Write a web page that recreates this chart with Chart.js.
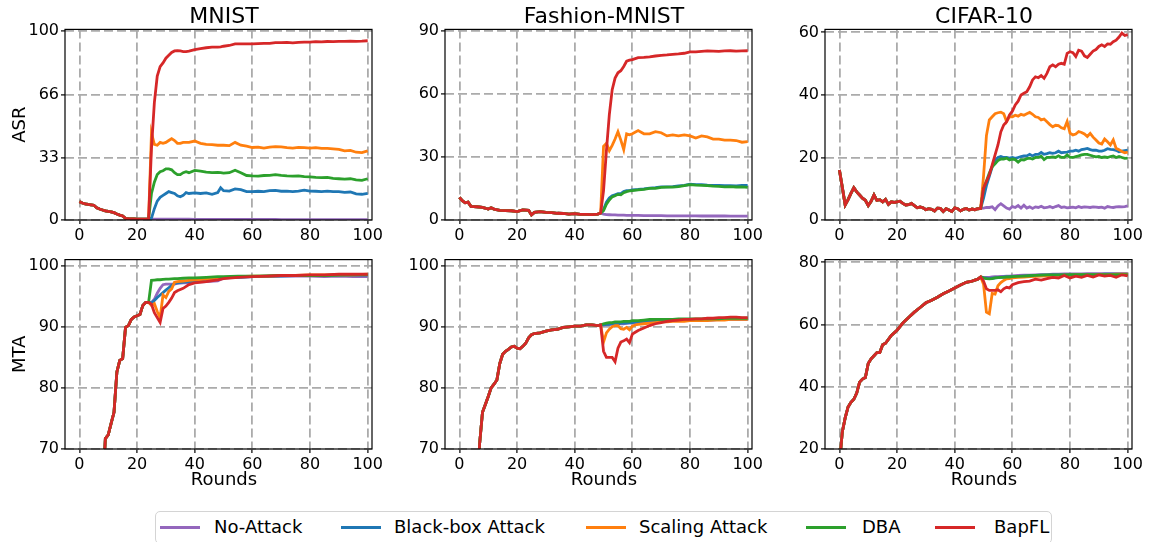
<!DOCTYPE html>
<html>
<head>
<meta charset="utf-8">
<script src="https://cdn.jsdelivr.net/npm/chart.js@4.4.1/dist/chart.umd.min.js"></script>
<style>
  body { margin: 0; width: 1150px; height: 542px; background: #fff; position: relative; overflow: hidden; font-family: "DejaVu Sans", sans-serif; }
  canvas { position: absolute; }
  #legend { position: absolute; left: 155px; top: 511px; width: 897px; height: 33px; border: 1px solid #d4d4d4; border-radius: 5px; box-sizing: border-box; font-size: 18px; color: #000; white-space: nowrap; }
  .swatch { position: absolute; top: 14px; width: 40px; height: 3px; }
  .label { position: absolute; top: 4px; line-height: 22px; }
</style>
</head>
<body>
<canvas id="c0"></canvas><canvas id="c1"></canvas><canvas id="c2"></canvas>
<canvas id="c3"></canvas><canvas id="c4"></canvas><canvas id="c5"></canvas>
<div id="legend"></div>
<script>
// series order: No-Attack, Black-box Attack, Scaling Attack, DBA, BapFL
const seriesNames = ['No-Attack', 'Black-box Attack', 'Scaling Attack', 'DBA', 'BapFL'];
const seriesColors = ['#9467bd', '#1f77b4', '#ff7f0e', '#2ca02c', '#d62728'];
const xTicks = [0, 20, 40, 60, 80, 100];

// ---- MNIST ASR ----
const mnistAsrTicks = [0, 33, 66, 100];
const mnistAsrPreRounds = [0,1,2,3,4,5,6,7,8,9,10,11,12,13,14,15,16,17,18,19,20,21,22,23,24];
const mnistAsrPre = [9.7,9,8.5,8.2,8,7.8,6.5,5.8,5.3,4.8, 4.5,4.3,3.9,3.2,2.6,2.1,0.9,0.7,0.6,0.6, 0.5,0.5,0.5,0.5,0.5];
const mnistAsrRounds = [25,26,27,28,29,30,31,32,33,34,35,36,37,38, 40,42,44,46,48, 49,
  50,52,54,56,58,60,62,64,66,68,70,72,74,76,78,80,82,84,86,88,90,92,94,96,98,100];
const mnistAsrNoAttack = [0.4,0.4,0.4,0.4,0.4,0.4,0.4,0.4,0.4,0.4,0.4,0.4,0.4,0.4, 0.3,0.3,0.3,0.3,0.3, 0.3,
  0.3,0.3,0.3,0.3,0.3,0.3,0.3,0.3,0.3,0.3,0.2,0.2,0.2,0.2,0.2,0.2,0.2,0.2,0.2,0.2,0.2,0.2,0.2,0.2,0.2,0.2];
const mnistAsrBlackbox = [1,6,10,12,13,14,15,14.5,14,12.8,12.3,13,14.5,14, 14.3,14,14.3,13.6,14.5, 17,
  15.5,15.3,16.4,16,15,15,15.2,15,15.5,15.6,15.2,15.3,15,15.3,15.8,15.3,15.2,15,15.3,15,15,14.6,14.8,13.8,13.6,14.1];
const mnistAsrScaling = [46,40,39.5,41,40.5,41,42,43,42,40.5,40.5,41,41,41, 41.7,40.5,40,39.8,39.5, 39.5,
  39.5,39.3,41,39.5,39,38.3,38.5,38,38.5,38.8,38.6,38.2,38,38.4,38.2,38,38.2,37.8,37.8,37.6,37.3,36.5,36.8,35.8,35.6,36.5];
const mnistAsrDba = [14,20,24,25.5,26,27,27,26.5,25,24,24,25,25.5,25, 26.2,25.8,25.3,25,25.2, 25,
  24.8,25,26.3,25,23.5,23.3,23.2,23.5,23.6,24,23.6,23.3,23.2,23.3,22.9,22.8,22.5,22.4,22.5,22,21.8,21.6,21.8,21.2,20.9,21.8];
const mnistAsrBapfl = [38,62,76,81,83,85.5,87,88.5,89.3,89.5,89.3,89,89,89.2, 90,90.5,91,91.3,91.3, 91.5,
  91.8,92.2,93,93,93,93,93.2,93.3,93.3,93.7,93.7,93.8,93.6,93.8,94,94,94.2,94.1,94.3,94.2,94.4,94.4,94.5,94.4,94.5,94.7];

// ---- Fashion-MNIST ASR ----
const fmnistAsrTicks = [0, 30, 60, 90];
const fmnistAsrPreRounds = [0,1,2,3,4, 6,8,10, 11,12, 14,16,18,20,22,24, 25,26, 28,30,32,34,36,38,40,42,44,46,48, 49];
const fmnistAsrPre = [10.8,9.2,8.2,8.5,6.5, 6.3,6,5.2, 5.8,5.2, 4.6,4.5,4.4,4,4.8,4.6, 2.4,3.6, 4,3.6,3.5,3.2,3.1,2.8,3,2.7,2.7,2.6,2.8, 3.3];
const fmnistAsrRounds = [50,51,52,53,54,55,56,57,58,59,60, 62,64,66,68,70,72,74,76,78,80, 82,84,86,88,90,92,94,96,98,100];
const fmnistAsrNoAttack = [2.8,2.6,2.5,2.4,2.4,2.3,2.3,2.3,2.2,2.2,2.2, 2.2,2.1,2.1,2.1,2.1,2,2,2,2,2, 2,1.9,1.9,1.9,1.9,1.9,1.8,1.8,1.8,1.8];
const fmnistAsrBlackbox = [5,8.5,10.5,11.5,12,12.5,12.5,13.5,14,14,14.3, 14.5,14.8,15.2,15.4,15.8,15.8,15.9,16.2,16.5,17, 16.8,16.8,16.6,16.5,16.4,16.3,16.3,16.2,16.4,16.5];
const fmnistAsrScaling = [35,36.5,33,35.5,38.5,42,38,33.5,41,40.5,41, 42.5,41,41,42,41.5,40,40.5,40,40.5,40, 39,40,39.5,38.5,38.5,38,38,37.8,37,37.3];
const fmnistAsrDba = [4.5,7.5,9.5,11,11.5,12.2,12,13,13.5,13.8,14, 14.3,14.6,15,15,15.5,15.6,15.6,15.9,16.3,16.8, 16.6,16.5,16.3,16.1,16,15.8,15.9,15.7,15.8,15.5];
const fmnistAsrBapfl = [14,33,50,62,67.5,70,71,73,75.5,76,76.3, 77.2,77.3,77.6,78,78.3,78.5,78.8,79,79.3,80, 80,80.2,80.4,80.3,80.2,80.4,80.5,80.3,80.4,80.5];

// ---- CIFAR-10 ASR ----
const cifarAsrTicks = [0, 20, 40, 60];
const cifarAsrPreRounds = [0,1,2,3,4,5,6,7,8,9, 10,11,12,13,14,15,16,17,18,19, 20,21,22,23,24,25,26,27,28,29,
  30,31,32,33,34,35,36,37,38,39, 40,41,42,43,44,45,46,47,48,49];
const cifarAsrPre = [16,10.5,4.8,6.5,8.5,10.3,9,8,7,6.3, 4.6,6,8,6.3,6.5,5.8,6.6,5,5.8,5.6, 5.8,6,5.3,4.8,4.9,5.3,4.6,3.9,4.2,3.9,
  3.3,3.6,3.4,2.9,3.8,3.7,2.7,3.6,3.2,2.7, 3.9,3.6,2.9,3.4,3.7,3.2,3.5,3.3,3.6,3.7];
const cifarAsrRounds = [50,51,52,53,54,55,56,57,58,59, 60,61,62,63,64,65,66,67,68,69, 70,71,72,73,74,75,76,77,78,79,
  80,81,82,83,84,85,86,87,88,89, 90,91,92,93,94,95,96,97,98,99,100];
const cifarAsrNoAttack = [3.8,4,4,4.2,3.3,4.5,5.2,4.5,3.8,3.5, 4.3,4,4.6,3.8,4.7,3.8,4.2,3.7,4.2,4, 4.4,3.9,4,4.3,3.9,4.3,4.6,4,4.2,3.9,
  4,4.1,3.9,4.3,4,4.2,4.1,4,4.2,4.1, 4,4.1,3.8,4.3,4.1,4,4.2,4.3,4.2,4.3,4.5];
const cifarAsrBlackbox = [7,11,14,17,19,20,20.3,20,20,19.8, 20,19.7,20,20.3,20.5,20.5,21,20.5,21,21, 21.6,21,21.2,21.5,21.3,21.5,22,21.5,21.6,21.7,
  22,22,22.3,22,22.5,22.7,22.9,22.5,22.3,22.3, 22,22,22.3,22.8,22.6,22.5,22.3,21.8,22,22.2,22.3];
const cifarAsrScaling = [14,27,32,33,34,34.3,34.5,34,31.5,33, 33,33.5,33.2,33.8,33.5,34,34.4,33.8,33,32.8, 32,32.3,31.4,30.5,29.8,30.3,30.2,29.5,29.2,31.5,
  27.8,27.2,27.5,28.3,28,27.5,26.7,27.7,26.5,25.6, 24.6,24.3,25.9,25,24,25.6,22.9,22.5,21.9,21.5,21.7];
const cifarAsrDba = [10,12.5,15,17,18,19,19.5,19.5,19.8,19.2, 19.5,19.3,18.5,19.3,19.2,19.6,19.8,19.5,20,20, 20.4,19.3,20,20,20.2,20,20.5,20,20,20.8,
  20,20,20.3,20.5,20.8,21,21,20.7,20.4,20.2, 20.3,20,20.2,20,20.3,20.5,20,20.3,20,19.7,19.8];
const cifarAsrBapfl = [10.1,12.3,14.4,17.6,20.8,24,28.2,30.4,31.4,33.6, 34.8,36.8,38,40,40.5,41,42.6,44.8,45.8,45.5, 46.2,45.3,46.9,49,49.6,49,49.8,50.1,49.8,53.3,
  53.8,53.5,52.3,54.3,54,52.5,52,53,54,54.5, 55.5,56,55.5,56.3,56.2,57,57.5,58.5,59.8,59,59.3];

// ---- MNIST MTA ----
const mnistMtaTicks = [70, 80, 90, 100];
const mnistMtaPreRounds = [8,9,10,11,12,13,14,15,16,17,18,19,20,21,22,23,24];
const mnistMtaPre = [63,71.7,72.3,74.2,76,82.6,84.5,84.8,89.9,90.2,91.2,91.6,91.8,92,93.5,94,94];
const mnistMtaRounds = [25,26,27,28,29,30,31,32,33,34, 36,38,40,44,48, 50,55,60,65,70,75,80,85,90,95,100];
const mnistMtaNoAttack = [94,94.5,95.5,96.3,96.9,97,97,97,97,97.1, 97.2,97.2,97.3,97.4,97.5, 98,98.1,98.2,98.2,98.3,98.3,98.3,98.2,98.3,98.2,98.2];
const mnistMtaBlackbox = [93.9,94.3,94.8,95.2,95.6,96,96.4,96.8,97.1,97.2, 97.3,97.4,97.5,97.6,97.8, 98,98.1,98.2,98.3,98.3,98.4,98.4,98.4,98.5,98.5,98.5];
const mnistMtaScaling = [93.5,93.8,92.5,91.5,95.2,94.8,95.8,96.2,97.3,97.4, 97.5,97.6,97.7,97.8,98, 98.1,98.2,98.3,98.3,98.4,98.4,98.5,98.5,98.5,98.5,98.6];
const mnistMtaDba = [97.6,97.65,97.7,97.7,97.75,97.8,97.8,97.85,97.9,97.9, 97.95,98,98,98.1,98.2, 98.2,98.3,98.3,98.35,98.4,98.4,98.4,98.4,98.45,98.5,98.5];
const mnistMtaBapfl = [93.7,92.3,91.5,90.7,93,93.4,94,94.7,95.6,95.9, 96.3,96.9,97.2,97.4,97.7, 97.9,98.1,98.2,98.3,98.4,98.4,98.5,98.5,98.6,98.6,98.6];

// ---- Fashion-MNIST MTA ----
const fmnistMtaTicks = [70, 80, 90, 100];
const fmnistMtaPreRounds = [6,7,8,9,10,11,12,13,14,15,16,17,18,19,20,21,22,23,24,25,26, 28,30,32,34,36,38,40,42,44,46,48, 49];
const fmnistMtaPre = [62,70.8,76,77.3,78.6,80,80.6,81.3,84,85.5,86,86.3,86.7,86.8,86.5,86.4,86.8,87.3,88.2,88.7,88.9,
  89,89.3,89.5,89.6,89.9,90,90.1,90.1,90.3,90.3,90.2, 90.3];
const fmnistMtaRounds = [50,51,52,53,54,55,56,57,58,59,60,61,62, 64,66,68,70,72,74,76,78,80,82, 84,86,88,90,92,94,96,98,100];
const fmnistMtaNoAttack = [90.3,90.3,90.4,90.4,90.4,90.5,90.5,90.5,90.6,90.6,90.6,90.7,90.7, 90.8,90.8,90.9,90.9,91,91,91,91,91.1,91.1, 91.1,91.1,91.1,91.2,91.2,91.2,91.2,91.2,91.2];
const fmnistMtaBlackbox = [90.3,90.4,90.4,90.5,90.5,90.5,90.6,90.6,90.6,90.7,90.7,90.8,90.8, 90.9,91,91,91.1,91.1,91.1,91.2,91.2,91.2,91.2, 91.2,91.3,91.3,91.3,91.3,91.3,91.3,91.3,91.3];
const fmnistMtaScaling = [87.5,89,89.6,90,90.2,90.2,89.7,89.6,89.9,89.5,90.1,90.3,90.4, 90.5,90.6,90.7,90.8,90.8,90.9,90.9,90.9,91,91, 91,91,91.1,91.1,91.1,91.2,91.2,91.2,91.2];
const fmnistMtaDba = [90.5,90.6,90.7,90.7,90.8,90.8,90.8,90.9,90.9,90.9,91,91,91, 91.1,91.2,91.2,91.2,91.2,91.2,91.3,91.3,91.3,91.3, 91.3,91.3,91.3,91.3,91.4,91.4,91.4,91.4,91.4];
const fmnistMtaBapfl = [86,85,85,85,84.3,86.5,87.5,87.7,88,87.4,88.8,89.1,89.4, 89.8,90.2,90.5,90.7,90.9,91,91.1,91.2,91.2,91.3, 91.3,91.4,91.4,91.5,91.5,91.6,91.6,91.5,91.5];

// ---- CIFAR-10 MTA ----
const cifarMtaTicks = [20, 40, 60, 80];
const cifarMtaPreRounds = [0,1,2,3,4,5,6,7,8,9,10,11,12,13,14,15,16, 18,20,22,24,26,28,30,32,34,36,38,40,42,44,46,48, 49];
const cifarMtaPre = [15,25.5,30,33.5,35,36,38,41.5,42.5,43,47.5,49,50,51,51,53.5,54,
  56.5,58.2,60.5,62.3,64,65.5,67,67.8,68.8,69.9,70.8,71.8,72.7,73.6,74,74.6, 75.3];
const cifarMtaRounds = [50,51,52,53,54,55,56,57,58,59,60, 62,64,66,68,70,72,74,76,78,80, 82,84,86,88,90,92,94,96,98,100];
const cifarMtaNoAttack = [75.2,75.2,75.2,75.3,75.4,75.4,75.5,75.5,75.6,75.6,75.7, 75.8,75.9,75.9,76,76.1,76.1,76.2,76.2,76.3,76.3, 76.3,76.3,76.4,76.4,76.4,76.4,76.4,76.4,76.4,76.4];
const cifarMtaBlackbox = [75,74.9,74.8,74.9,75,75.1,75.2,75.3,75.3,75.4,75.4, 75.5,75.6,75.7,75.8,75.9,75.9,76,76,76,76, 76.1,76.1,76.1,76.1,76.1,76.2,76.2,76.2,76.2,76.2];
const cifarMtaScaling = [73,64,63.5,70,69.8,72.5,73.5,74.2,74.7,74.8,75, 75.2,75.3,75.4,75.5,75.6,75.7,75.8,75.8,75.9,75.9, 76,76,76,76,76.1,76.1,76.1,76.2,76.2,76.2];
const cifarMtaDba = [75,74.8,74.7,74.8,75,75.1,75.2,75.2,75.3,75.3,75.4, 75.5,75.6,75.7,75.8,75.9,76,76,76,76,76.1, 76.1,76.1,76.1,76.1,76.1,76.1,76.1,76.1,76.1,76.1];
const cifarMtaBapfl = [74,71.5,71,71,71,71.2,70.6,71.5,72,71.8,72.8, 73.5,73.8,74,74.6,74.3,74.8,75.2,75,75.8,75, 75.6,75.2,75.8,75.3,76,75.6,75.8,75.2,76,75.7];

Chart.defaults.font.family = "'DejaVu Sans', sans-serif";
Chart.defaults.color = '#000';

// joins the shared pre-attack curve with one series' own post-attack values
const joinSeries = (preRounds, pre, rounds, vals) =>
  preRounds.map((r, i) => ({ x: r, y: pre[i] })).concat(rounds.map((r, i) => ({ x: r, y: vals[i] })));

const framePlugin = {
  id: 'frame',
  afterDatasetsDraw(chart) {
    const { ctx, chartArea: a } = chart;
    ctx.save();
    ctx.strokeStyle = '#000';
    ctx.lineWidth = 1.2;
    ctx.strokeRect(a.left, a.top, a.right - a.left, a.bottom - a.top);
    ctx.restore();
  }
};

// panel title and x label, centred a little right of the plot area like the original figure
const panelTextPlugin = {
  id: 'panelText',
  afterDraw(chart, args, opts) {
    const { ctx, chartArea: a } = chart;
    const cx = (a.left + a.right) / 2 + 5.5;
    ctx.save();
    ctx.fillStyle = '#000';
    ctx.textAlign = 'center';
    ctx.textBaseline = 'middle';
    if (opts.title) {
      ctx.font = "22px 'DejaVu Sans'";
      ctx.fillText(opts.title, cx, a.top - 12);
    }
    if (opts.xlabel) {
      ctx.font = "18px 'DejaVu Sans'";
      ctx.fillText(opts.xlabel, cx, a.bottom + 31);
    }
    ctx.restore();
  }
};

const gridOpts = { color: '#ababab', lineWidth: 1.8, tickColor: '#000', tickLength: 4, tickWidth: 1.2, tickBorderDash: [] };
const borderOpts = { display: false, dash: [9, 4] };

function drawPanel(id, left, top, height, p) {
  const cv = document.getElementById(id);
  cv.width = 387; cv.height = height;
  cv.style.left = left + 'px'; cv.style.top = top + 'px';
  const datasets = p.series.map((vals, k) => ({
    label: seriesNames[k],
    data: joinSeries(p.preRounds, p.pre, p.rounds, vals),
    borderColor: seriesColors[k],
    borderWidth: 2.8,
    pointRadius: 0,
    tension: 0,
    order: 4 - k
  }));
  new Chart(cv, {
    type: 'line',
    data: { datasets },
    options: {
      responsive: false,
      animation: false,
      devicePixelRatio: 1,
      layout: { padding: { top: p.padTop, right: 15, left: 0, bottom: 0 } },
      plugins: {
        legend: { display: false },
        tooltip: { enabled: false },
        panelText: { title: p.title, xlabel: p.showRounds ? 'Rounds' : '' }
      },
      scales: {
        x: {
          type: 'linear', min: -5, max: 101.5,
          afterBuildTicks: s => { s.ticks = xTicks.map(v => ({ value: v })); },
          afterFit: s => { s.height = p.xh; },
          grid: gridOpts, border: borderOpts,
          ticks: { font: { size: 16 }, color: '#000', padding: 2, maxRotation: 0, autoSkip: false }
        },
        y: {
          type: 'linear', min: p.ymin, max: p.ymax,
          afterBuildTicks: s => { s.ticks = p.yTicks.map(v => ({ value: v })); },
          afterFit: s => { s.width = 65; },
          grid: gridOpts, border: borderOpts,
          ticks: { font: { size: 16 }, color: '#000', padding: 2, autoSkip: false },
          title: { display: !!p.ylabel, text: p.ylabel, color: '#000', font: { size: 18 }, padding: { top: 10, bottom: 0 } }
        }
      }
    },
    plugins: [framePlugin, panelTextPlugin]
  });
}

const colLeft = [0, 380, 760];
const topRow = { top: 0, height: 250, padTop: 29.4, xh: 30, showRounds: false };
const botRow = { top: 248, height: 246, padTop: 10.3, xh: 45, showRounds: true };

drawPanel('c0', colLeft[0], topRow.top, topRow.height, Object.assign({}, topRow, {
  title: 'MNIST', ylabel: 'ASR', ymin: 0, ymax: 100.7, yTicks: mnistAsrTicks,
  preRounds: mnistAsrPreRounds, pre: mnistAsrPre, rounds: mnistAsrRounds,
  series: [mnistAsrNoAttack, mnistAsrBlackbox, mnistAsrScaling, mnistAsrDba, mnistAsrBapfl] }));
drawPanel('c1', colLeft[1], topRow.top, topRow.height, Object.assign({}, topRow, {
  title: 'Fashion-MNIST', ylabel: '', ymin: 0, ymax: 90.65, yTicks: fmnistAsrTicks,
  preRounds: fmnistAsrPreRounds, pre: fmnistAsrPre, rounds: fmnistAsrRounds,
  series: [fmnistAsrNoAttack, fmnistAsrBlackbox, fmnistAsrScaling, fmnistAsrDba, fmnistAsrBapfl] }));
drawPanel('c2', colLeft[2], topRow.top, topRow.height, Object.assign({}, topRow, {
  title: 'CIFAR-10', ylabel: '', ymin: 0, ymax: 60.95, yTicks: cifarAsrTicks,
  preRounds: cifarAsrPreRounds, pre: cifarAsrPre, rounds: cifarAsrRounds,
  series: [cifarAsrNoAttack, cifarAsrBlackbox, cifarAsrScaling, cifarAsrDba, cifarAsrBapfl] }));
drawPanel('c3', colLeft[0], botRow.top, botRow.height, Object.assign({}, botRow, {
  title: '', ylabel: 'MTA', ymin: 70, ymax: 101, yTicks: mnistMtaTicks,
  preRounds: mnistMtaPreRounds, pre: mnistMtaPre, rounds: mnistMtaRounds,
  series: [mnistMtaNoAttack, mnistMtaBlackbox, mnistMtaScaling, mnistMtaDba, mnistMtaBapfl] }));
drawPanel('c4', colLeft[1], botRow.top, botRow.height, Object.assign({}, botRow, {
  title: '', ylabel: '', ymin: 70, ymax: 101, yTicks: fmnistMtaTicks,
  preRounds: fmnistMtaPreRounds, pre: fmnistMtaPre, rounds: fmnistMtaRounds,
  series: [fmnistMtaNoAttack, fmnistMtaBlackbox, fmnistMtaScaling, fmnistMtaDba, fmnistMtaBapfl] }));
drawPanel('c5', colLeft[2], botRow.top, botRow.height, Object.assign({}, botRow, {
  title: '', ylabel: '', ymin: 20, ymax: 80.9, yTicks: cifarMtaTicks,
  preRounds: cifarMtaPreRounds, pre: cifarMtaPre, rounds: cifarMtaRounds,
  series: [cifarMtaNoAttack, cifarMtaBlackbox, cifarMtaScaling, cifarMtaDba, cifarMtaBapfl] }));

// shared legend below the grid (offsets inside the box, px)
const legendSwatchLeft = [4, 185, 430, 650, 779];
const legendLabelLeft = [58, 238, 483, 706, 838];
const legend = document.getElementById('legend');
seriesNames.forEach((name, k) => {
  legend.insertAdjacentHTML('beforeend',
    `<span class="swatch" style="left:${legendSwatchLeft[k]}px;background:${seriesColors[k]}"></span>` +
    `<span class="label" style="left:${legendLabelLeft[k]}px">${name}</span>`);
});
</script>
</body>
</html>
